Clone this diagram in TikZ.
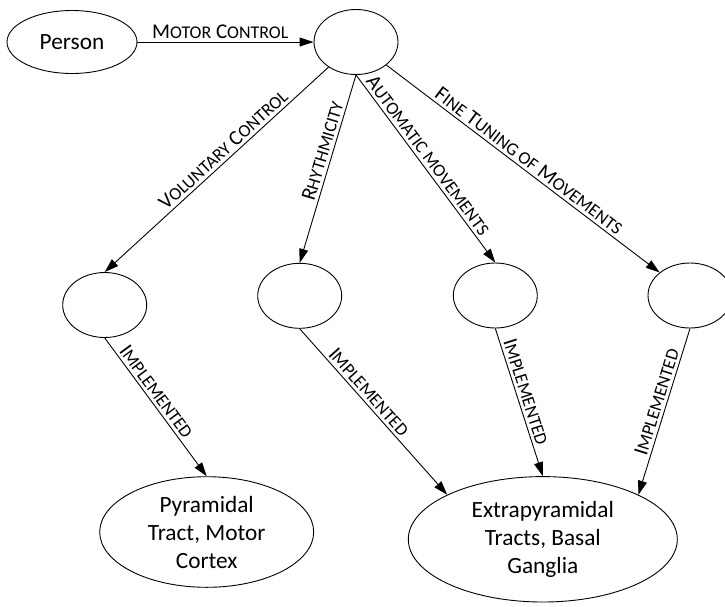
\documentclass[tikz,border=0pt]{standalone}
\usepackage{fontspec}
\setmainfont{Carlito}
\usetikzlibrary{shapes.geometric,arrows.meta}
% reduced capitals for the small-caps parts of the edge labels
\newcommand{\lsc}{\fontsize{17.9}{17.9}\selectfont}

\begin{document}
\begin{tikzpicture}[x=1pt,y=-1pt,
  every node/.style={font=\fontsize{23.3}{28}\selectfont},
  oval/.style={draw, ellipse, line width=0.9pt, inner sep=-30pt},
  state/.style={oval, minimum width=84pt, minimum height=65pt},
  link/.style={draw, line width=0.9pt, -{Triangle[length=14pt,width=9pt]}},
  tag/.style={sloped, above, inner sep=3pt, font=\fontsize{21}{21}\selectfont}
]
\path[use as bounding box, clip] (0,0) rectangle (725,606);

% nodes
\node[oval, minimum width=130pt, minimum height=63pt] (person) at (72,42) {Person};
\node[state] (top) at (356,42) {};
\node[state] (c1) at (104.7,305) {};
\node[state] (c2) at (299.7,295.8) {};
\node[state] (c3) at (495.3,295.5) {};
\node[state] (c4) at (690,295.5) {};
\node[oval, minimum width=214pt, minimum height=110.6pt, align=center] (pyr) at (206.7,532)
  {Pyramidal\\Tract, Motor\\Cortex};
\node[oval, minimum width=269pt, minimum height=125.4pt, align=center] (extra) at (542.8,539.3)
  {Extrapyramidal\\Tracts, Basal\\Ganglia};

% connectors
\draw[link] (person) -- node[tag, pos=0.47]{M{\lsc OTOR} C{\lsc ONTROL}} (top);
\draw[link] (top) -- node[tag, pos=0.44]{V{\lsc OLUNTARY} C{\lsc ONTROL}} (c1.north);
\draw[link] (top.south) -- node[tag, pos=0.42]{R{\lsc HYTHMICITY}} (c2.north);
\draw[link] (top.south) -- node[tag, pos=0.46]{A{\lsc UTOMATIC MOVEMENTS}} (c3.north);
\draw[link] (top) -- node[tag, pos=0.5]{F{\lsc INE} T{\lsc UNING OF} M{\lsc OVEMENTS}} (c4);
\draw[link] (c1.south) -- node[tag, pos=0.43]{I{\lsc MPLEMENTED}} (pyr.north);
\draw[link] (c2.south) -- node[tag, pos=0.42]{I{\lsc MPLEMENTED}} (extra.155);
\draw[link] (c3.south) -- node[tag, pos=0.45]{I{\lsc MPLEMENTED}} (extra.north);
\draw[link] (c4.south) -- node[tag, pos=0.46]{I{\lsc MPLEMENTED}} (extra.25);
\end{tikzpicture}
\end{document}
